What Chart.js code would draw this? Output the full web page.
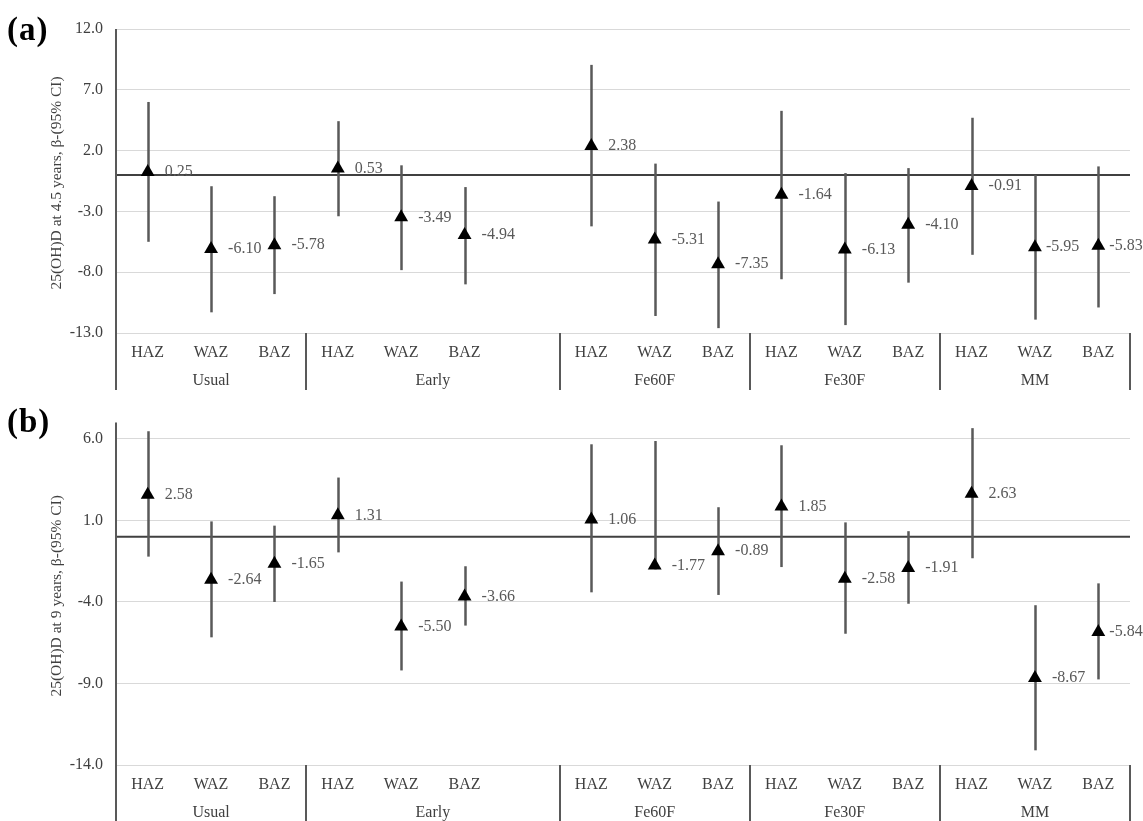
<!DOCTYPE html>
<html><head><meta charset="utf-8">
<script src="https://cdn.jsdelivr.net/npm/chart.js@4.4.0/dist/chart.umd.min.js"></script>
<style>
html,body{margin:0;padding:0;background:#fff;}
#wrap{position:relative;width:1143px;height:821px;overflow:hidden;background:#fff;}
.panel{position:absolute;left:0;width:1143px;}
#pa{top:0;height:400px;}
#pb{top:400px;height:421px;}
.tag{position:absolute;left:7px;font:bold 33px "Liberation Serif","Times New Roman",serif;color:#000;line-height:1;letter-spacing:1px;}
</style></head>
<body><div id="wrap">
<div class="panel" id="pa"><canvas id="ca" width="1143" height="400"></canvas></div>
<div class="panel" id="pb"><canvas id="cb" width="1143" height="421"></canvas></div>
<div class="tag" style="top:13px">(a)</div>
<div class="tag" style="top:405px">(b)</div>
</div>
<script>
// ---- data ----
const xLabels = ["HAZ","WAZ","BAZ","HAZ","WAZ","BAZ","","HAZ","WAZ","BAZ","HAZ","WAZ","BAZ","HAZ","WAZ","BAZ"];
const groupNames = ["Usual","Early","Fe60F","Fe30F","MM"];
const groupSizes = [3,4,3,3,3];

const estA  = [0.25,-6.10,-5.78, 0.53,-3.49,-4.94,null, 2.38,-5.31,-7.35, -1.64,-6.13,-4.10, -0.91,-5.95,-5.83];
const lowA  = [-5.5,-11.3,-9.8, -3.4,-7.83,-9.0,null, -4.23,-11.6,-12.6, -8.58,-12.35,-8.86, -6.57,-11.9,-10.9];
const highA = [6.0,-0.93,-1.75, 4.42,0.79,-1.0,null, 9.05,0.93,-2.19, 5.27,0.15,0.56, 4.7,0.0,0.7];
const ticksA = [-13,-8,-3,2,7,12];

const estB  = [2.58,-2.64,-1.65, 1.31,-5.50,-3.66,null, 1.06,-1.77,-0.89, 1.85,-2.58,-1.91, 2.63,-8.67,-5.84];
const lowB  = [-1.22,-6.17,-4.0, -0.96,-8.2,-5.45,null, -3.41,-2.0,-3.57, -1.86,-5.95,-4.11, -1.32,-13.1,-8.75];
const highB = [6.47,0.94,0.68, 3.63,-2.75,-1.81,null, 5.67,5.87,1.81, 5.61,0.88,0.34, 6.66,-4.2,-2.86];
const ticksB = [-14,-9,-4,1,6];

const titleA = "25(OH)D at 4.5 years, \u03B2-(95% CI)";
const titleB = "25(OH)D at 9 years, \u03B2-(95% CI)";

// ---- drawing ----
const SERIF = '"Liberation Serif","Times New Roman",serif';

function panelPlugin(p){
  return {
    id:'panel',
    beforeDatasetsDraw(chart){
      const {ctx, chartArea:a, scales:{x,y}} = chart;
      ctx.save();
      const y0 = y.getPixelForValue(0);
      ctx.strokeStyle='#404040'; ctx.lineWidth=2;
      ctx.beginPath(); ctx.moveTo(a.left,y0); ctx.lineTo(a.right,y0); ctx.stroke();
      ctx.strokeStyle='#595959'; ctx.lineWidth=2.5;
      p.est.forEach((v,i)=>{
        if(v==null) return;
        const px = Math.round(x.getPixelForValue(i))+0.5;
        ctx.beginPath();
        ctx.moveTo(px, y.getPixelForValue(p.high[i]));
        ctx.lineTo(px, y.getPixelForValue(p.low[i]));
        ctx.stroke();
      });
      ctx.restore();
    },
    afterDatasetsDraw(chart){
      const {ctx, scales:{x,y}} = chart;
      ctx.save();
      ctx.font = '16px '+SERIF; ctx.fillStyle='#595959';
      ctx.textAlign='left'; ctx.textBaseline='middle';
      p.est.forEach((v,i)=>{
        if(v==null) return;
        const dx = (p.nearLabels.indexOf(i) >= 0) ? 11 : 17;
        ctx.fillText(v.toFixed(2), x.getPixelForValue(i)+dx, y.getPixelForValue(v));
      });
      ctx.restore();
    },
    afterDraw(chart){
      const {ctx, chartArea:a, scales:{x}} = chart;
      ctx.save();
      ctx.strokeStyle='#595959'; ctx.lineWidth=2;
      ctx.beginPath(); ctx.moveTo(a.left, a.top); ctx.lineTo(a.left, p.divBottom); ctx.stroke();
      let b = 0;
      const bounds=[-0.5];
      groupSizes.forEach(s=>{ b+=s; bounds.push(b-0.5); });
      bounds.forEach((bv,k)=>{
        if(k===0) return;
        const px = Math.round(x.getPixelForValue(bv));
        ctx.beginPath(); ctx.moveTo(px, a.bottom); ctx.lineTo(px, p.divBottom); ctx.stroke();
      });
      ctx.font='16px '+SERIF; ctx.fillStyle='#404040';
      ctx.textAlign='center'; ctx.textBaseline='middle';
      xLabels.forEach((l,i)=>{ if(l) ctx.fillText(l, x.getPixelForValue(i), a.bottom+20); });
      groupNames.forEach((g,k)=>{
        const cx = (x.getPixelForValue(bounds[k])+x.getPixelForValue(bounds[k+1]))/2;
        ctx.fillText(g, cx, a.bottom+48);
      });
      ctx.font='15.5px '+SERIF; ctx.fillStyle='#404040';
      ctx.translate(57,(a.top+a.bottom)/2+2);
      ctx.rotate(-Math.PI/2);
      ctx.fillText(p.title,0,0);
      ctx.restore();
    }
  };
}

function makeChart(id, p){
  new Chart(document.getElementById(id), {
    type:'line',
    data:{ labels:xLabels, datasets:[{
      data:p.est, showLine:false, pointStyle:'triangle', pointRadius:8, pointHoverRadius:8,
      pointBackgroundColor:'#000', pointBorderColor:'#000', pointBorderWidth:0
    }]},
    options:{
      responsive:false, animation:false, devicePixelRatio:1,
      layout:{padding:{left:0,right:13,top:p.top,bottom:p.bottom}},
      plugins:{legend:{display:false}, tooltip:{enabled:false}},
      scales:{
        x:{type:'category', offset:true, display:false},
        y:{min:p.min, max:p.max,
           afterFit(s){ s.width=116; },
           afterBuildTicks(s){ s.ticks = p.ticks.map(v=>({value:v})); },
           grid:{color:'#d9d9d9', lineWidth:1, drawTicks:false},
           border:{display:false},
           ticks:{padding:13, color:'#404040', font:{family:SERIF,size:16},
                  callback:(v)=>Number(v).toFixed(1)}
        }
      }
    },
    plugins:[panelPlugin(p)]
  });
}

makeChart('ca',{est:estA,low:lowA,high:highA,ticks:ticksA,min:-13,max:12,title:titleA,top:29,bottom:400-333,divBottom:390,nearLabels:[14,15]});
makeChart('cb',{est:estB,low:lowB,high:highB,ticks:ticksB,min:-14,max:7,title:titleB,top:15,bottom:421-365,divBottom:421,nearLabels:[15]});
</script>
</body></html>
